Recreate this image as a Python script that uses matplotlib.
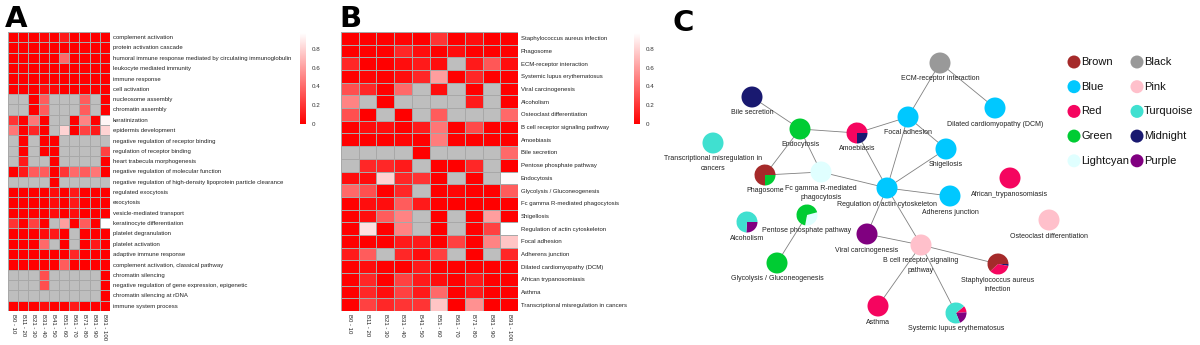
import numpy as np
import matplotlib
matplotlib.use("Agg")
import matplotlib.pyplot as plt
from matplotlib.colors import LinearSegmentedColormap
from matplotlib.patches import Circle, Wedge

plt.rcParams['font.family'] = ['Liberation Sans', 'DejaVu Sans']

na = np.nan

bins = ['B0 - 10', 'B11 - 20', 'B21 - 30', 'B31 - 40', 'B41 - 50',
        'B51 - 60', 'B61 - 70', 'B71 - 80', 'B81 - 90', 'B91 - 100']

# GO terms, p-values per bin (nan = not enriched)
go_terms = [
    'complement activation',
    'protein activation cascade',
    'humoral immune response mediated by circulating immunoglobulin',
    'leukocyte mediated immunity',
    'immune response',
    'cell activation',
    'nucleosome assembly',
    'chromatin assembly',
    'keratinization',
    'epidermis development',
    'negative regulation of receptor binding',
    'regulation of receptor binding',
    'heart trabecula morphogenesis',
    'negative regulation of molecular function',
    'negative regulation of high-density lipoprotein particle clearance',
    'regulated exocytosis',
    'exocytosis',
    'vesicle-mediated transport',
    'keratinocyte differentiation',
    'platelet degranulation',
    'platelet activation',
    'adaptive immune response',
    'complement activation, classical pathway',
    'chromatin silencing',
    'negative regulation of gene expression, epigenetic',
    'chromatin silencing at rDNA',
    'immune system process',
]
go_pvals = [
    [0, 0, 0, 0.02, 0, 0.1, 0, 0, 0, 0],
    [0, 0, 0, 0, 0, 0, 0, 0, 0, 0],
    [0, 0, 0, 0, 0, 0.4, 0, 0, 0, 0],
    [0, 0, 0, 0, 0, 0, 0, 0, 0, 0],
    [0, 0, 0, 0, 0, 0, 0, 0, 0, 0],
    [0, 0, 0, 0.05, 0.03, 0, 0, 0, 0, 0],
    [na, na, 0, 0.35, na, na, na, 0.35, na, 0],
    [na, na, 0, 0.35, na, na, na, 0.35, na, 0],
    [0.2, 0, 0.45, 0, na, na, 0, 0.5, 0, 0.93],
    [0.45, 0, 0.15, 0, na, 0.8, 0, 0.25, 0.1, 0.8],
    [na, 0, na, 0, 0, na, na, na, na, na],
    [na, 0, na, 0, 0, na, na, na, na, 0.25],
    [na, 0.1, na, na, 0, na, na, na, na, 0],
    [0, 0.1, 0.35, 0.35, 0, 0.2, 0.4, 0.35, 0.45, 0],
    [na, na, na, na, 0, na, na, na, na, na],
    [0, 0, 0, 0, 0.05, 0, 0.1, 0, 0, 0],
    [0, 0, 0, 0, 0.05, 0, 0.1, 0, 0, 0],
    [0, 0, 0, 0, 0.05, 0, 0.05, 0, 0, 0],
    [0.2, 0, 0.25, 0, na, 0.6, 0, 0.35, 0, 1.0],
    [0, 0, 0, 0.05, 0.1, 0, na, 0, 0, 0],
    [0, 0, 0, 0.4, na, 0, na, 0, 0.1, 0],
    [0, 0, 0, 0, 0, 0, 0.15, 0, 0, 0],
    [0, 0, 0, 0, 0, 0.35, 0, 0, 0, 0],
    [na, na, na, 0.3, na, na, na, na, na, 0],
    [na, na, na, 0.3, na, na, na, na, na, 0],
    [na, na, na, na, na, na, na, na, na, 0],
    [0, 0, 0, 0.05, 0, 0, 0.1, 0, 0, 0],
]

# KEGG pathways, p-values per bin
kegg_terms = [
    'Staphylococcus aureus infection',
    'Phagosome',
    'ECM-receptor interaction',
    'Systemic lupus erythematosus',
    'Viral carcinogenesis',
    'Alcoholism',
    'Osteoclast differentiation',
    'B cell receptor signaling pathway',
    'Amoebiasis',
    'Bile secretion',
    'Pentose phosphate pathway',
    'Endocytosis',
    'Glycolysis / Gluconeogenesis',
    'Fc gamma R-mediated phagocytosis',
    'Shigellosis',
    'Regulation of actin cytoskeleton',
    'Focal adhesion',
    'Adherens junction',
    'Dilated cardiomyopathy (DCM)',
    'African trypanosomiasis',
    'Asthma',
    'Transcriptional misregulation in cancers',
]
kegg_pvals = [
    [0, 0, 0, 0.02, 0, 0.2, 0, 0.05, 0, 0],
    [0, 0, 0, 0.15, 0.05, 0, 0.05, 0, 0, 0],
    [0.15, 0, 0, 0.05, 0.1, 0.05, na, 0.1, 0.33, 0.05],
    [0, 0.02, 0, 0.05, 0.15, 0.6, 0, 0.15, 0, 0],
    [0.3, 0.15, 0, 0.4, na, 0.05, na, 0, na, 0],
    [0.5, na, 0, na, na, na, na, 0.1, na, 0],
    [0.3, 0, na, 0, na, 0.35, na, na, na, 0.4],
    [0, 0.05, 0.05, 0, 0.1, 0.45, 0, 0.28, 0, 0],
    [0, 0, 0, 0.02, 0, 0.47, 0, 0, 0, 0],
    [na, na, na, na, 0, na, na, na, na, 0.4],
    [na, 0.15, 0.15, 0.1, na, 0, 0, 0.15, na, 0],
    [0.05, 0.05, 0.8, 0.15, 0.2, 0, na, 0, na, 0.95],
    [0.4, 0.3, 0, 0.15, na, 0, 0.02, 0, 0, 0.35],
    [0, 0.05, 0.05, 0.35, 0.1, 0, 0, 0, 0, 0],
    [0, 0.05, 0.35, 0.5, na, 0, na, 0, 0.6, 0],
    [0, 0.85, 0, 0.5, na, 0, na, 0, 0.25, 1.0],
    [0, 0, 0, 0.1, 0.1, 0, 0.25, 0, 0.5, 0.75],
    [0.1, 0.35, na, 0.15, 0.05, 0.25, na, 0, na, 0.15],
    [0, 0.05, 0, 0, 0.1, 0, 0, 0, 0, 0],
    [0, 0.15, 0, 0.25, 0.1, 0.05, 0, 0.1, 0, 0],
    [0, 0.15, 0.05, 0.25, 0.1, 0.4, 0, 0.1, 0, 0],
    [0, 0.25, 0.15, 0.2, 0.2, 0.75, 0, 0.55, 0, 0],
]

# module colours
modules = ['Brown', 'Blue', 'Red', 'Green', 'Lightcyan',
           'Black', 'Pink', 'Turquoise', 'Midnight', 'Purple']
module_colors = {
    'Brown': '#A52A2A', 'Blue': '#00C8FF', 'Red': '#F5055F',
    'Green': '#00CC33', 'Lightcyan': '#E0FFFF', 'Black': '#999999',
    'Pink': '#FFC0CB', 'Turquoise': '#40E0D0', 'Midnight': '#191970',
    'Purple': '#800080',
}

# pathway -> module membership (fractions, listed clockwise from start angle)
membership = {
    'ECM-receptor interaction': [('Black', 1)],
    'Dilated cardiomyopathy (DCM)': [('Blue', 1)],
    'Focal adhesion': [('Blue', 1)],
    'Shigellosis': [('Blue', 1)],
    'Amoebiasis': [('Midnight', 0.25), ('Red', 0.75)],
    'Endocytosis': [('Green', 1)],
    'Bile secretion': [('Midnight', 1)],
    'Transcriptional misregulation in\ncancers': [('Turquoise', 1)],
    'Fc gamma R-mediated\nphagocytosis': [('Lightcyan', 1)],
    'Phagosome': [('Green', 0.25), ('Brown', 0.75)],
    'Regulation of actin cytoskeleton': [('Blue', 1)],
    'Adherens junction': [('Blue', 1)],
    'African_trypanosomiasis': [('Red', 1)],
    'Osteoclast differentiation': [('Pink', 1)],
    'Pentose phosphate pathway': [('Lightcyan', 0.32), ('Green', 0.68)],
    'Alcoholism': [('Purple', 0.26), ('Turquoise', 0.74)],
    'Viral carcinogenesis': [('Purple', 1)],
    'B cell receptor signaling\npathway': [('Pink', 1)],
    'Glycolysis / Gluconeogenesis': [('Green', 1)],
    'Staphylococcus aureus\ninfection': [('Midnight', 0.03), ('Red', 0.35), ('Brown', 0.62)],
    'Asthma': [('Red', 1)],
    'Systemic lupus erythematosus': [('Red', 0.1), ('Purple', 0.2), ('Turquoise', 0.7)],
}
start_angle = {'Pentose phosphate pathway': 15,
               'Systemic lupus erythematosus': 40}

edges = [
    ('ECM-receptor interaction', 'Focal adhesion'),
    ('ECM-receptor interaction', 'Dilated cardiomyopathy (DCM)'),
    ('Focal adhesion', 'Shigellosis'),
    ('Focal adhesion', 'Amoebiasis'),
    ('Focal adhesion', 'Regulation of actin cytoskeleton'),
    ('Shigellosis', 'Regulation of actin cytoskeleton'),
    ('Amoebiasis', 'Endocytosis'),
    ('Amoebiasis', 'Regulation of actin cytoskeleton'),
    ('Endocytosis', 'Bile secretion'),
    ('Endocytosis', 'Phagosome'),
    ('Endocytosis', 'Fc gamma R-mediated\nphagocytosis'),
    ('Phagosome', 'Fc gamma R-mediated\nphagocytosis'),
    ('Fc gamma R-mediated\nphagocytosis', 'Regulation of actin cytoskeleton'),
    ('Regulation of actin cytoskeleton', 'Adherens junction'),
    ('Regulation of actin cytoskeleton', 'Viral carcinogenesis'),
    ('Regulation of actin cytoskeleton', 'B cell receptor signaling\npathway'),
    ('Viral carcinogenesis', 'B cell receptor signaling\npathway'),
    ('B cell receptor signaling\npathway', 'Staphylococcus aureus\ninfection'),
    ('B cell receptor signaling\npathway', 'Asthma'),
    ('B cell receptor signaling\npathway', 'Systemic lupus erythematosus'),
    ('Pentose phosphate pathway', 'Glycolysis / Gluconeogenesis'),
]

# network layout (pixel coordinates in the panel)
layout = {
    'ECM-receptor interaction': (940, 63),
    'Dilated cardiomyopathy (DCM)': (995, 108),
    'Focal adhesion': (908, 117),
    'Shigellosis': (946, 149),
    'Amoebiasis': (857, 133),
    'Endocytosis': (800, 129),
    'Bile secretion': (752, 97),
    'Transcriptional misregulation in\ncancers': (713, 143),
    'Fc gamma R-mediated\nphagocytosis': (821, 172),
    'Phagosome': (765, 175),
    'Regulation of actin cytoskeleton': (887, 188),
    'Adherens junction': (950, 196),
    'African_trypanosomiasis': (1010, 178),
    'Osteoclast differentiation': (1049, 220),
    'Pentose phosphate pathway': (807, 215),
    'Alcoholism': (747, 222),
    'Viral carcinogenesis': (867, 234),
    'B cell receptor signaling\npathway': (921, 245),
    'Glycolysis / Gluconeogenesis': (777, 263),
    'Staphylococcus aureus\ninfection': (998, 264),
    'Asthma': (878, 306),
    'Systemic lupus erythematosus': (956, 313),
}

W, H = 1200, 345
fig = plt.figure(figsize=(W / 100, H / 100), dpi=100)

cmap = LinearSegmentedColormap.from_list('rw', ['#FF0000', '#FFFFFF'])
cmap.set_bad('#BEBEBE')
vmax = 0.97


def px_rect(x0, y0, x1, y1):
    return [x0 / W, 1 - y1 / H, (x1 - x0) / W, (y1 - y0) / H]


def heatmap(rect, cbar_rect, terms, pvals):
    ax = fig.add_axes(rect)
    data = np.ma.masked_invalid(np.array(pvals, dtype=float))
    mesh = ax.pcolormesh(data, cmap=cmap, vmin=0, vmax=vmax,
                         edgecolors='#A8A8A8', linewidth=0.6)
    ax.set_xlim(0, len(bins))
    ax.set_ylim(len(terms), 0)
    ax.yaxis.tick_right()
    ax.set_yticks(np.arange(len(terms)) + 0.5)
    ax.set_yticklabels(terms, fontsize=4.3, color='#222222')
    ax.set_xticks(np.arange(len(bins)) + 0.5)
    ax.set_xticklabels(bins, rotation=270, fontsize=4.3, color='#222222')
    ax.tick_params(length=0, pad=2)
    for s in ax.spines.values():
        s.set_visible(False)
    cax = fig.add_axes(cbar_rect)
    cb = fig.colorbar(mesh, cax=cax, ticks=[0, 0.2, 0.4, 0.6, 0.8])
    cb.outline.set_visible(False)
    cb.ax.tick_params(length=0, labelsize=4.5, pad=4, colors='#333333')
    cb.ax.set_yticklabels(['0', '0.2', '0.4', '0.6', '0.8'])


heatmap(px_rect(8, 32, 110, 311), px_rect(300, 33, 306, 124), go_terms, go_pvals)
heatmap(px_rect(341, 32, 518, 311), px_rect(634, 33, 640, 124), kegg_terms, kegg_pvals)

# network panel (y axis points down, so screen angles are mirrored)
axc = fig.add_axes(px_rect(640, 0, 1200, 345))
axc.set_xlim(640, 1200)
axc.set_ylim(345, 0)
axc.axis('off')

r = 10.5
for a, b in edges:
    (x1, y1), (x2, y2) = layout[a], layout[b]
    axc.plot([x1, x2], [y1, y2], color='#808080', lw=0.6, zorder=1)

for name, parts in membership.items():
    x, y = layout[name]
    theta = start_angle.get(name, 0)
    for mod, frac in parts:
        if frac >= 1:
            axc.add_patch(Circle((x, y), r, color=module_colors[mod], lw=0, zorder=2))
        else:
            end = theta - frac * 360
            axc.add_patch(Wedge((x, y), r, -theta, -end,
                                color=module_colors[mod], lw=0, zorder=2))
            theta = end
    axc.text(x, y + r + 2, name, ha='center', va='top', fontsize=5,
             color='#222222', linespacing=1.5, zorder=3)

# module legend
for i, mod in enumerate(modules):
    col, row = divmod(i, 5)
    lx = 1074 + col * 63
    ly = 62 + row * 24.7
    axc.add_patch(Circle((lx, ly), 6.5, color=module_colors[mod], lw=0))
    axc.text(lx + 7, ly, mod, ha='left', va='center', fontsize=8, color='#111111')

for letter, x, y in [('A', 5, 5), ('B', 339, 5), ('C', 672, 9)]:
    fig.text(x / W, 1 - y / H, letter, fontsize=21, fontweight='bold',
             ha='left', va='top', family='DejaVu Sans')

fig.savefig('out.png', dpi=100)
